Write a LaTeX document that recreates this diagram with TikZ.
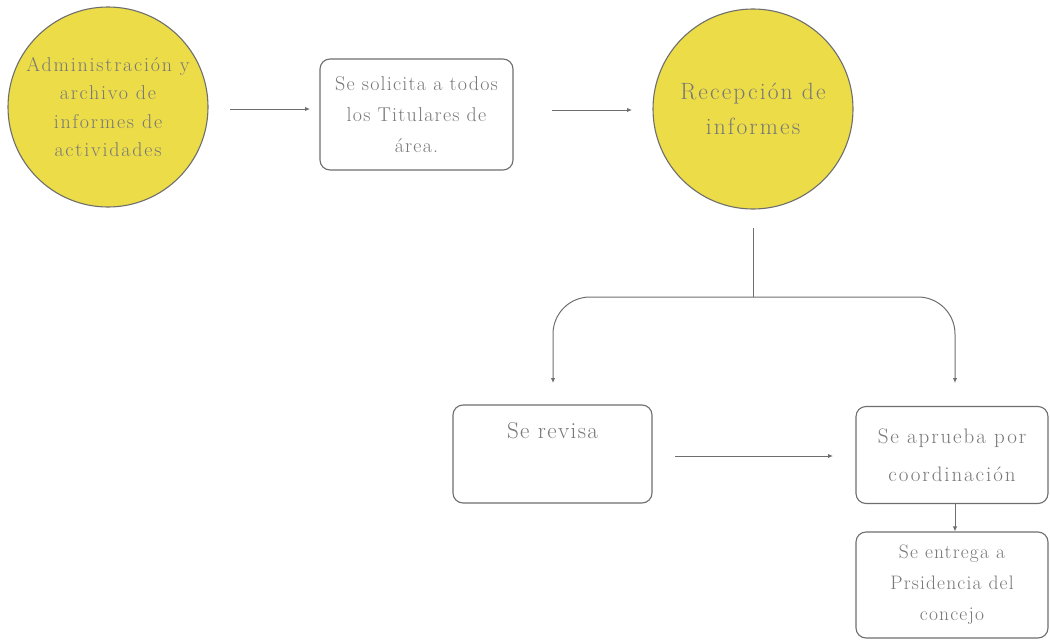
\documentclass[tikz,border=0pt]{standalone}
\usepackage{fontspec}
\setmainfont{Latin Modern Roman}
\newfontfamily\wideA{Latin Modern Roman}[LetterSpace=6]
\newfontfamily\wideB{Latin Modern Roman}[LetterSpace=9]
\usetikzlibrary{arrows.meta,positioning}
\definecolor{circfill}{RGB}{236,220,72}
\definecolor{edgegray}{RGB}{110,110,110}
\definecolor{txtgray}{RGB}{120,120,120}
\begin{document}
\begin{tikzpicture}[x=1pt,y=-1pt,
  circ/.style={circle, draw=edgegray, line width=1.1pt, fill=circfill, minimum size=200pt, inner sep=0pt, align=center, text=txtgray},
  stepbox/.style={rectangle, rounded corners=10pt, draw=edgegray, line width=1.1pt, fill=white, inner sep=0pt, align=center, text=txtgray, font=\wideA\fontsize{20}{31}\selectfont},
  arr/.style={draw=edgegray, line width=1pt, -{Latex[length=5pt,width=4.5pt]}},
  ln/.style={draw=edgegray, line width=1pt}]
\useasboundingbox (0,0) rectangle (1050,643);
% nodes
\node[circ, font=\wideB\fontsize{20}{28.5}\selectfont] (c1) at (108,107) {Administración y\\archivo de\\informes de\\actividades};
\node[stepbox, minimum width=193pt, minimum height=111pt] (b1) at (416.5,114.5) {Se solicita a todos\\los Titulares de\\área.};
\node[circ, font=\wideB\fontsize{23.5}{35}\selectfont] (c2) at (753,109) {Recepción de\\informes};
\node[stepbox, minimum width=199pt, minimum height=98pt,
  label={[text=txtgray, font=\wideA\fontsize{23}{24}\selectfont, anchor=north, yshift=-14pt]north:Se revisa}] (rev) at (552.5,454) {};
\node[stepbox, minimum width=192pt, minimum height=97pt, font=\wideB\fontsize{21}{38}\selectfont] (apr) at (952,455) {Se aprueba por\\coordinación};
\node[stepbox, minimum width=192pt, minimum height=106pt, font=\wideA\fontsize{19.5}{31}\selectfont] (ent) at (952,585) {Se entrega a\\Prsidencia del\\concejo};
% connectors
\coordinate (a1s) at (230,109);
\coordinate (a1e) at (310,109);
\draw[arr] (a1s) -- (a1e);
\coordinate (a2s) at (552,110);
\coordinate (a2e) at (632,110);
\draw[arr] (a2s) -- (a2e);
\coordinate (vtop) at (753,228);
\coordinate (split) at (753,297);
\draw[ln] (vtop) -- (split);
\coordinate (lt) at (553,383);
\coordinate (rt) at (955,383);
\draw[arr, rounded corners=37pt] (split) -| (lt);
\draw[arr, rounded corners=37pt] (split) -| (rt);
\coordinate (a3s) at (675,456);
\coordinate (a3e) at (833,456);
\draw[arr] (a3s) -- (a3e);
\draw[arr] (apr.south -| 955,0) -- (ent.north -| 955,0);
\end{tikzpicture}
\end{document}
